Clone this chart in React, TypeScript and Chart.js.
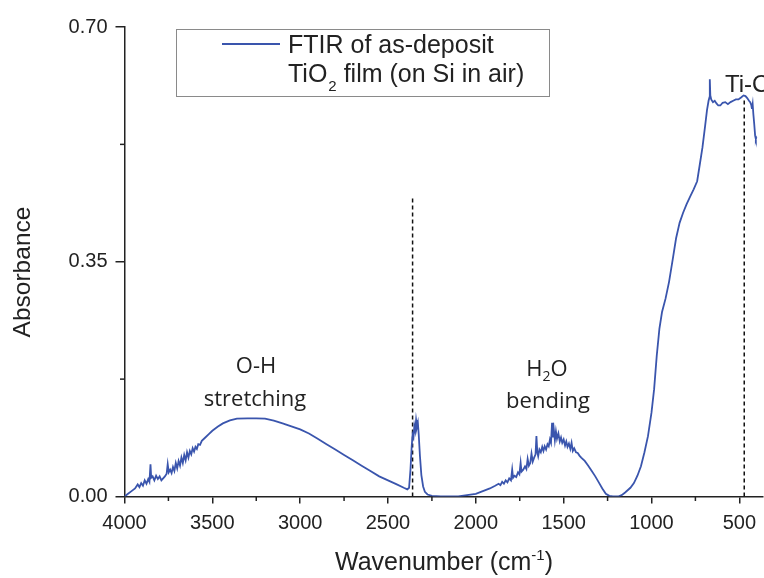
import React, { useEffect, useRef } from 'react';
import { Chart, registerables } from 'chart.js';

Chart.register(...registerables);

// ---- Data ----
// O-H region (noisy part)
const wnOHNoisy = [4000, 3980, 3960, 3940, 3925, 3915, 3905, 3895, 3885, 3875, 3865, 3858, 3852, 3848, 3840, 3830, 3820, 3810, 3800, 3790, 3780, 3770, 3760, 3754, 3748, 3740, 3732, 3724, 3716, 3708, 3700, 3692, 3684, 3676, 3668, 3660, 3652, 3644, 3636, 3628, 3620, 3612, 3604, 3596, 3588, 3580, 3570, 3560];
const absOHNoisy = [0.000, 0.004, 0.008, 0.012, 0.018, 0.014, 0.020, 0.016, 0.024, 0.019, 0.026, 0.022, 0.048, 0.028, 0.030, 0.024, 0.031, 0.026, 0.030, 0.024, 0.027, 0.030, 0.034, 0.048, 0.036, 0.040, 0.035, 0.044, 0.038, 0.050, 0.042, 0.053, 0.046, 0.058, 0.050, 0.062, 0.054, 0.066, 0.058, 0.068, 0.063, 0.072, 0.067, 0.074, 0.071, 0.078, 0.077, 0.083];
// O-H region (smooth part)
const wnOHSmooth = [3540, 3520, 3500, 3470, 3440, 3400, 3360, 3300, 3250, 3200, 3150, 3100, 3050, 3000, 2950, 2900, 2850, 2800, 2750, 2700, 2650, 2600, 2550, 2500, 2450, 2410, 2390];
const absOHSmooth = [0.088, 0.093, 0.098, 0.104, 0.109, 0.1135, 0.116, 0.1165, 0.1165, 0.116, 0.113, 0.109, 0.1045, 0.100, 0.094, 0.0862, 0.078, 0.070, 0.062, 0.054, 0.046, 0.038, 0.030, 0.024, 0.018, 0.013, 0.0107];
// CO2 doublet near 2350
const wnCO2 = [2380, 2372, 2365, 2360, 2355, 2350, 2345, 2340, 2335, 2330, 2325, 2318, 2310, 2300, 2290, 2275, 2250];
const absCO2 = [0.013, 0.040, 0.075, 0.092, 0.088, 0.105, 0.098, 0.114, 0.104, 0.110, 0.092, 0.060, 0.032, 0.015, 0.007, 0.003, 0.001];
// H2O bending region
const wnH2O = [2200, 2150, 2100, 2050, 2000, 1960, 1920, 1890, 1870, 1860, 1850, 1840, 1830, 1820, 1810, 1800, 1793, 1788, 1780, 1770, 1760, 1752, 1745, 1740, 1730, 1720, 1712, 1705, 1698, 1690, 1683, 1676, 1668, 1660, 1655, 1650, 1645, 1638, 1630, 1622, 1615, 1608, 1600, 1592, 1585, 1578, 1572, 1566, 1562, 1556, 1550, 1544, 1538, 1530, 1522, 1515, 1508, 1500, 1492, 1485, 1478, 1470, 1462, 1455, 1448, 1440, 1430, 1420, 1410, 1400, 1380, 1360, 1340, 1320, 1300, 1280, 1260, 1240];
const absH2O = [0.000, 0.000, 0.000, 0.002, 0.004, 0.008, 0.012, 0.016, 0.019, 0.017, 0.022, 0.019, 0.024, 0.021, 0.027, 0.024, 0.040, 0.028, 0.031, 0.029, 0.036, 0.033, 0.050, 0.037, 0.040, 0.045, 0.041, 0.056, 0.046, 0.050, 0.064, 0.052, 0.058, 0.063, 0.090, 0.066, 0.060, 0.070, 0.066, 0.074, 0.068, 0.075, 0.070, 0.078, 0.075, 0.085, 0.080, 0.110, 0.088, 0.100, 0.084, 0.097, 0.086, 0.094, 0.082, 0.088, 0.080, 0.085, 0.076, 0.082, 0.074, 0.079, 0.071, 0.080, 0.068, 0.072, 0.066, 0.065, 0.061, 0.058, 0.053, 0.046, 0.038, 0.030, 0.021, 0.012, 0.004, 0.001];
// Ti-O region
const wnTiO = [1220, 1190, 1170, 1150, 1120, 1100, 1080, 1060, 1040, 1020, 1000, 985, 970, 955, 940, 920, 900, 880, 860, 840, 820, 800, 780, 760, 740, 725, 710, 695, 684, 675, 670, 668, 665, 660, 650, 640, 630, 620, 608, 595, 580, 565, 550, 535, 520, 505, 490, 476, 465, 455, 445, 438, 432, 428, 424, 420, 415, 410, 406, 403];
const absTiO = [0.000, 0.000, 0.002, 0.006, 0.013, 0.020, 0.031, 0.045, 0.066, 0.090, 0.125, 0.160, 0.210, 0.250, 0.275, 0.295, 0.320, 0.352, 0.385, 0.408, 0.423, 0.436, 0.447, 0.458, 0.470, 0.495, 0.520, 0.552, 0.576, 0.590, 0.595, 0.622, 0.598, 0.592, 0.588, 0.590, 0.586, 0.583, 0.583, 0.587, 0.588, 0.585, 0.588, 0.590, 0.592, 0.592, 0.595, 0.598, 0.597, 0.594, 0.590, 0.588, 0.584, 0.578, 0.585, 0.570, 0.555, 0.538, 0.533, 0.536];

// Dashed marker lines
const markerWavenumbers = [2360, 472];
const markerTops = [0.446, 0.595];

// Axes
const xMin = 368;
const xMax = 4000;
const yMin = 0;
const yMax = 0.7;
const xMajorTicks = [4000, 3500, 3000, 2500, 2000, 1500, 1000, 500];
const xMinorTicks = [3750, 3250, 2750, 2250, 1750, 1250, 750];
const yMajorTicks = [0, 0.35, 0.7];
const yMinorTicks = [0.175, 0.525];

// Texts
const xTitle = ['Wavenumber (cm', '-1', ')'];
const yTitle = 'Absorbance';
const legendLine1 = 'FTIR of as-deposit';
const legendLine2 = ['TiO', '2', ' film (on Si in air)'];
const annOH = ['O-H', 'stretching'];
const annH2O = ['H', '2', 'O', 'bending'];
const annTiO = 'Ti-O';

const wavenumber = [...wnOHNoisy, ...wnOHSmooth, ...wnCO2, ...wnH2O, ...wnTiO];
const absorbance = [...absOHNoisy, ...absOHSmooth, ...absCO2, ...absH2O, ...absTiO];

const LINE_COLOR = '#3a55ad';
const AXIS_COLOR = '#222222';
const ARIAL = '"Liberation Sans", Arial, sans-serif';
const HUMANIST = '"Open Sans", "Noto Sans", sans-serif';

const overlayPlugin = {
  id: 'overlay',
  afterDraw(chart: any) {
    const ctx: CanvasRenderingContext2D = chart.ctx;
    const xs = chart.scales.x;
    const ys = chart.scales.y;
    ctx.save();

    // minor ticks
    ctx.strokeStyle = AXIS_COLOR;
    ctx.lineWidth = 1.5;
    xMinorTicks.forEach((v) => {
      const px = xs.getPixelForValue(v);
      ctx.beginPath();
      ctx.moveTo(px, ys.bottom);
      ctx.lineTo(px, ys.bottom + 4.5);
      ctx.stroke();
    });
    yMinorTicks.forEach((v) => {
      const py = ys.getPixelForValue(v);
      ctx.beginPath();
      ctx.moveTo(xs.left, py);
      ctx.lineTo(xs.left - 4.5, py);
      ctx.stroke();
    });

    // axis titles
    ctx.fillStyle = AXIS_COLOR;
    ctx.textBaseline = 'alphabetic';
    ctx.font = `25px ${ARIAL}`;
    const w0 = ctx.measureText(xTitle[0]).width;
    ctx.font = `15px ${ARIAL}`;
    const w1 = ctx.measureText(xTitle[1]).width;
    ctx.font = `25px ${ARIAL}`;
    const w2 = ctx.measureText(xTitle[2]).width;
    const total = w0 + w1 + w2;
    let tx = 444 - total / 2;
    const tBase = 570;
    ctx.textAlign = 'left';
    ctx.fillText(xTitle[0], tx, tBase);
    tx += w0;
    ctx.font = `15px ${ARIAL}`;
    ctx.fillText(xTitle[1], tx, tBase - 10);
    tx += w1;
    ctx.font = `25px ${ARIAL}`;
    ctx.fillText(xTitle[2], tx, tBase);

    ctx.save();
    ctx.translate(30, 272);
    ctx.rotate(-Math.PI / 2);
    ctx.textAlign = 'center';
    ctx.font = `24.5px ${ARIAL}`;
    ctx.fillText(yTitle, 0, 0);
    ctx.restore();

    // legend box
    ctx.fillStyle = '#ffffff';
    ctx.fillRect(176.5, 29.5, 373, 67);
    ctx.strokeStyle = '#8a8a8a';
    ctx.lineWidth = 1;
    ctx.strokeRect(176.5, 29.5, 373, 67);
    ctx.strokeStyle = chart.data.datasets[0].borderColor;
    ctx.lineWidth = 2;
    ctx.beginPath();
    ctx.moveTo(222, 44);
    ctx.lineTo(280, 44);
    ctx.stroke();
    ctx.fillStyle = AXIS_COLOR;
    ctx.textAlign = 'left';
    ctx.font = `25px ${ARIAL}`;
    ctx.fillText(legendLine1, 288, 53);
    let lx = 288;
    ctx.fillText(legendLine2[0], lx, 82);
    lx += ctx.measureText(legendLine2[0]).width;
    ctx.font = `15px ${ARIAL}`;
    ctx.fillText(legendLine2[1], lx + 1, 91);
    lx += ctx.measureText(legendLine2[1]).width + 1;
    ctx.font = `25px ${ARIAL}`;
    ctx.fillText(legendLine2[2], lx, 82);

    // annotations
    ctx.textAlign = 'center';
    ctx.font = `22px ${HUMANIST}`;
    ctx.fillText(annOH[0], 256, 373);
    ctx.fillText(annOH[1], 255, 406);

    // H2O with subscript
    ctx.textAlign = 'left';
    ctx.font = `22px ${HUMANIST}`;
    const hW = ctx.measureText(annH2O[0]).width;
    const oW = ctx.measureText(annH2O[2]).width;
    ctx.font = `14px ${HUMANIST}`;
    const sW = ctx.measureText(annH2O[1]).width;
    let hx = 547 - (hW + sW + oW) / 2;
    ctx.font = `22px ${HUMANIST}`;
    ctx.fillText(annH2O[0], hx, 376);
    hx += hW;
    ctx.font = `14px ${HUMANIST}`;
    ctx.fillText(annH2O[1], hx, 381);
    hx += sW;
    ctx.font = `22px ${HUMANIST}`;
    ctx.fillText(annH2O[2], hx, 376);
    ctx.textAlign = 'center';
    ctx.fillText(annH2O[3], 548, 408);

    ctx.textAlign = 'left';
    ctx.font = `24px ${ARIAL}`;
    ctx.fillText(annTiO, 725, 92);

    ctx.restore();
  },
};

export default function App() {
  const canvasRef = useRef<HTMLCanvasElement>(null);

  useEffect(() => {
    const canvas = canvasRef.current;
    if (!canvas) return;

    const mainData = wavenumber.map((w, i) => ({ x: w, y: absorbance[i] }));
    const markerSets = markerWavenumbers.map((w, i) => ({
      type: 'line' as const,
      label: 'marker' + i,
      data: [
        { x: w, y: 0 },
        { x: w, y: markerTops[i] },
      ],
      borderColor: '#111111',
      borderWidth: 1.5,
      borderDash: [4, 3],
      pointRadius: 0,
      fill: false,
    }));

    const chart = new Chart(canvas, {
      type: 'line',
      data: {
        datasets: [
          {
            label: 'FTIR of as-deposit TiO2 film (on Si in air)',
            data: mainData,
            borderColor: LINE_COLOR,
            borderWidth: 1.8,
            pointRadius: 0,
            fill: false,
            tension: 0,
          },
          ...markerSets,
        ],
      },
      options: {
        animation: false,
        responsive: true,
        maintainAspectRatio: false,
        parsing: true,
        layout: { padding: { top: 27, right: 0, bottom: 0, left: 0 } },
        plugins: {
          legend: { display: false },
          tooltip: { enabled: false },
          title: { display: false },
        },
        scales: {
          x: {
            type: 'linear',
            reverse: true,
            min: xMin,
            max: xMax,
            afterBuildTicks: (s: any) => {
              s.ticks = xMajorTicks.map((v) => ({ value: v }));
            },
            afterFit: (s: any) => {
              s.height = 81.5;
            },
            ticks: {
              autoSkip: false,
              maxRotation: 0,
              padding: 8,
              color: AXIS_COLOR,
              font: { family: ARIAL, size: 20 },
              callback: (v: any) => String(v),
            },
            grid: {
              drawOnChartArea: false,
              drawTicks: true,
              tickLength: 7,
              color: AXIS_COLOR,
              lineWidth: 1.5,
            },
            border: { display: true, color: AXIS_COLOR, width: 1.5 },
          },
          y: {
            type: 'linear',
            min: yMin,
            max: yMax,
            afterBuildTicks: (s: any) => {
              s.ticks = yMajorTicks.map((v) => ({ value: v }));
            },
            afterFit: (s: any) => {
              s.width = 124.5;
            },
            ticks: {
              padding: 8,
              color: AXIS_COLOR,
              font: { family: ARIAL, size: 20 },
              callback: (v: any) => Number(v).toFixed(2),
            },
            grid: {
              drawOnChartArea: false,
              drawTicks: true,
              tickLength: 9,
              color: AXIS_COLOR,
              lineWidth: 1.5,
            },
            border: { display: true, color: AXIS_COLOR, width: 1.5 },
          },
        },
      },
      plugins: [overlayPlugin],
    } as any);

    return () => chart.destroy();
  }, []);

  return (
    <div style={{ position: 'absolute', left: 0, top: 0, width: 764, height: 578, background: '#ffffff' }}>
      <canvas ref={canvasRef} />
    </div>
  );
}
